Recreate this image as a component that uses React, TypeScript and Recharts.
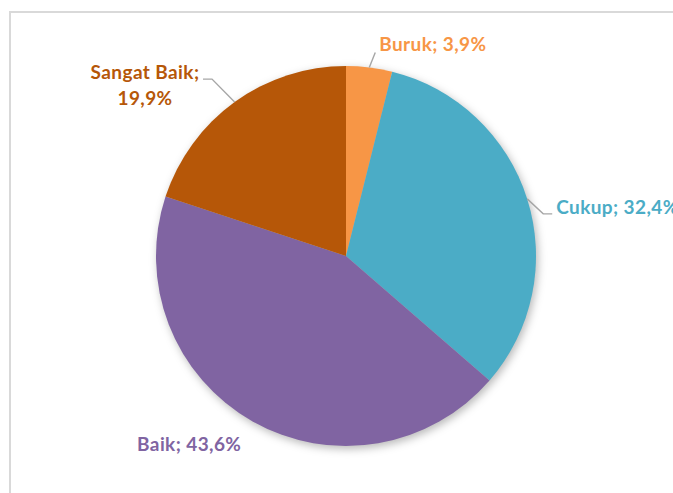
import React from 'react';
import { PieChart, Pie, Cell } from 'recharts';

const categories = ['Buruk', 'Cukup', 'Baik', 'Sangat Baik'];
const percentages = [3.9, 32.4, 43.6, 19.9];
const colors = ['#F79646', '#4BACC6', '#8064A2', '#B65708'];

const data = categories.map((name, i) => ({ name, value: percentages[i] }));

// label layout relative to the slice's outer-edge mid point
type Layout = {
  line?: number[][];
  tx: number;
  ty: number;
  anchor: 'start' | 'middle' | 'end';
  split?: boolean;
};
const labelLayout: Layout[] = [
  { line: [[0, 0], [6, -15]], tx: 10, ty: -16, anchor: 'start' },
  { line: [[0, 0], [16, 15], [25, 15]], tx: 29, ty: 15.5, anchor: 'start' },
  { tx: -63, ty: 30, anchor: 'middle' },
  { line: [[0, 0], [-22.6, -23], [-31.6, -23]], tx: -89.6, ty: -22.8, anchor: 'middle', split: true },
];

const fmt = (v: number) => v.toFixed(1).replace('.', ',') + '%';
const RAD = Math.PI / 180;
const FONT = 'Lato, "Open Sans", sans-serif';
const FS = 19;
const LS = 0.4;

const renderLabel = (props: any) => {
  const { cx, cy, midAngle, outerRadius, index, name, value } = props;
  const ex = cx + outerRadius * Math.cos(-midAngle * RAD);
  const ey = cy + outerRadius * Math.sin(-midAngle * RAD);
  const L = labelLayout[index];
  const color = colors[index];
  const pts = L.line ? L.line.map(([dx, dy]) => `${ex + dx},${ey + dy}`).join(' ') : null;
  const common = {
    textAnchor: L.anchor,
    fill: color,
    fontFamily: FONT,
    fontWeight: 700,
    fontSize: FS,
    letterSpacing: LS,
  };
  return (
    <g key={`lbl-${index}`}>
      {pts && <polyline points={pts} fill="none" stroke="#a6a6a6" strokeWidth={1.4} />}
      {L.split ? (
        <text x={ex + L.tx} y={ey + L.ty} {...common}>
          <tspan x={ex + L.tx}>{name};</tspan>
          <tspan x={ex + L.tx} dy={26}>{fmt(value)}</tspan>
        </text>
      ) : (
        <text x={ex + L.tx} y={ey + L.ty} {...common}>
          {`${name}; ${fmt(value)}`}
        </text>
      )}
    </g>
  );
};

export default function App() {
  return (
    <div style={{ position: 'absolute', left: 0, top: 0, width: 673, height: 493, overflow: 'hidden', background: '#fff' }}>
      <style>{`.recharts-pie > g:not(.recharts-pie-labels):first-child { filter: drop-shadow(2px 3px 4px rgba(0,0,0,0.28)); }`}</style>
      <div
        style={{
          position: 'absolute',
          left: 9,
          top: 11,
          width: 800,
          height: 600,
          borderLeft: '2px solid #d9d9d9',
          borderTop: '2px solid #d9d9d9',
        }}
      />
      <div style={{ position: 'absolute', left: 0, top: 0 }}>
        <PieChart width={673} height={493} margin={{ top: 0, right: 0, bottom: 0, left: 0 }}>
          <Pie
            data={data}
            dataKey="value"
            nameKey="name"
            cx={346}
            cy={256}
            outerRadius={190}
            startAngle={90}
            endAngle={-270}
            stroke="none"
            isAnimationActive={false}
            labelLine={false}
            label={renderLabel}
          >
            {data.map((d, i) => (
              <Cell key={d.name} fill={colors[i]} />
            ))}
          </Pie>
        </PieChart>
      </div>
    </div>
  );
}
